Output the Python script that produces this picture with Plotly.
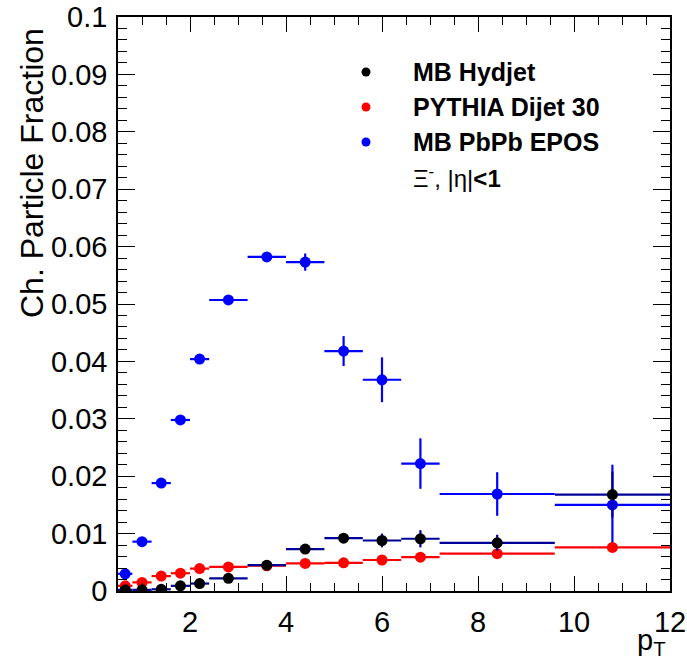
import plotly.graph_objects as go

# ---- data ----
bin_lo = [0.5, 0.8, 1.2, 1.6, 2.0, 2.4, 3.2, 4.0, 4.8, 5.6, 6.4, 7.2, 9.6]
bin_hi = [0.8, 1.2, 1.6, 2.0, 2.4, 3.2, 4.0, 4.8, 5.6, 6.4, 7.2, 9.6, 12.0]

hydjet = [0.0002, 0.0002, 0.0003, 0.0009, 0.0013, 0.0022, 0.0045, 0.0073, 0.0092, 0.0088, 0.0091, 0.0084, 0.0168]
hydjet_err = [0.0001, 0.0001, 0.0001, 0.0001, 0.0002, 0.0002, 0.0003, 0.0004, 0.0005, 0.0012, 0.0015, 0.0014, 0.0040]

pythia = [0.0009, 0.0015, 0.0026, 0.0031, 0.0039, 0.0042, 0.0044, 0.0048, 0.0049, 0.0054, 0.0059, 0.0065, 0.0076]
pythia_err = [0.0001, 0.0001, 0.0001, 0.0001, 0.0001, 0.0001, 0.0001, 0.0001, 0.0002, 0.0002, 0.0002, 0.0002, 0.0003]

epos = [0.0030, 0.0086, 0.0188, 0.0298, 0.0404, 0.0507, 0.0582, 0.0573, 0.0418, 0.0368, 0.0222, 0.0169, 0.0150]
epos_err = [0.0003, 0.0004, 0.0005, 0.0005, 0.0005, 0.0005, 0.0005, 0.0015, 0.0026, 0.0039, 0.0044, 0.0038, 0.0070]

series_names = ["MB Hydjet", "PYTHIA Dijet 30", "MB PbPb EPOS"]
y_ticks = [0, 0.01, 0.02, 0.03, 0.04, 0.05, 0.06, 0.07, 0.08, 0.09, 0.1]
x_ticks = [2, 4, 6, 8, 10, 12]

centers = [(a + b) / 2 for a, b in zip(bin_lo, bin_hi)]
halfw = [(b - a) / 2 for a, b in zip(bin_lo, bin_hi)]

W, H = 687, 662
L, R, T, B = 118, 17, 17, 71
PW, PH = W - L - R, H - T - B

def px(p):
    return (p - L) / PW

def py(p):
    return 1 - (p - T) / PH

FONT = "Liberation Sans, Arial, Helvetica, sans-serif"

fig = go.Figure()

def add_series(y, err, mcol, lcol, name):
    fig.add_trace(go.Scatter(
        x=centers, y=y, mode="markers", name=name, showlegend=False,
        marker=dict(color=mcol, size=11, line=dict(width=0)),
        error_x=dict(type="data", array=halfw, color=lcol, thickness=2.2, width=0),
        error_y=dict(type="data", array=err, color=lcol, thickness=2.2, width=0),
    ))

# draw order: EPOS, PYTHIA, Hydjet (Hydjet on top)
add_series(epos, epos_err, "#0000ff", "#0000ff", series_names[2])
add_series(pythia, pythia_err, "#ff0000", "#ff0000", series_names[1])
add_series(hydjet, hydjet_err, "#000000", "#000099", series_names[0])

axis_common = dict(
    showline=True, linecolor="black", linewidth=1.5, mirror="ticks",
    ticks="inside", tickcolor="black", tickwidth=1.3,
    showgrid=False, zeroline=False, automargin=False,
    tickfont=dict(family=FONT, size=29, color="black"),
)

fig.update_xaxes(
    range=[0.5, 12], tickvals=x_ticks, ticklen=15,
    minor=dict(dtick=0.5, tick0=0, ticklen=8, ticks="inside", tickcolor="black", tickwidth=1.3),
    ticklabelstandoff=4,
    **axis_common,
)
fig.update_yaxes(
    range=[0, 0.1], tickvals=y_ticks, ticktext=[("%g" % v) for v in y_ticks], ticklen=17,
    minor=dict(dtick=0.002, tick0=0, ticklen=9, ticks="inside", tickcolor="black", tickwidth=1.3),
    ticklabelstandoff=3,
    **axis_common,
)

annotations = []
shapes = []
legend_rows = [(series_names[0], "#000000", 72), (series_names[1], "#ff0000", 107), (series_names[2], "#0000ff", 142)]
for name, col, yy in legend_rows:
    annotations.append(dict(
        text="<b>%s</b>" % name, xref="paper", yref="paper",
        x=px(411), y=py(yy), xanchor="left", yanchor="middle", showarrow=False,
        font=dict(family=FONT, size=25, color="black"),
    ))
    shapes.append(dict(
        type="circle", xref="paper", yref="paper", xsizemode="pixel", ysizemode="pixel",
        xanchor=px(366), yanchor=py(yy), x0=-4.5, x1=4.5, y0=-4.5, y1=4.5,
        fillcolor=col, line=dict(width=0),
    ))
annotations.append(dict(
    text="Ξ<sup>-</sup>, |η|<b>&lt;1</b>", xref="paper", yref="paper",
    x=px(411), y=py(177), xanchor="left", yanchor="middle", showarrow=False,
    font=dict(family=FONT, size=24, color="black"),
))
annotations.append(dict(
    text="Ch. Particle Fraction", xref="paper", yref="paper", textangle=-90,
    x=px(32), y=py(26), xanchor="center", yanchor="top", showarrow=False,
    font=dict(family=FONT, size=32, color="black"),
))
annotations.append(dict(
    text="p<sub>T</sub>", xref="paper", yref="paper",
    x=px(668), y=py(662), xanchor="right", yanchor="bottom", showarrow=False,
    font=dict(family=FONT, size=29, color="black"),
))

fig.update_layout(
    width=W, height=H, margin=dict(l=L, r=R, t=T, b=B),
    paper_bgcolor="white", plot_bgcolor="white",
    showlegend=False, annotations=annotations, shapes=shapes,
)

fig.write_html("out.html")
